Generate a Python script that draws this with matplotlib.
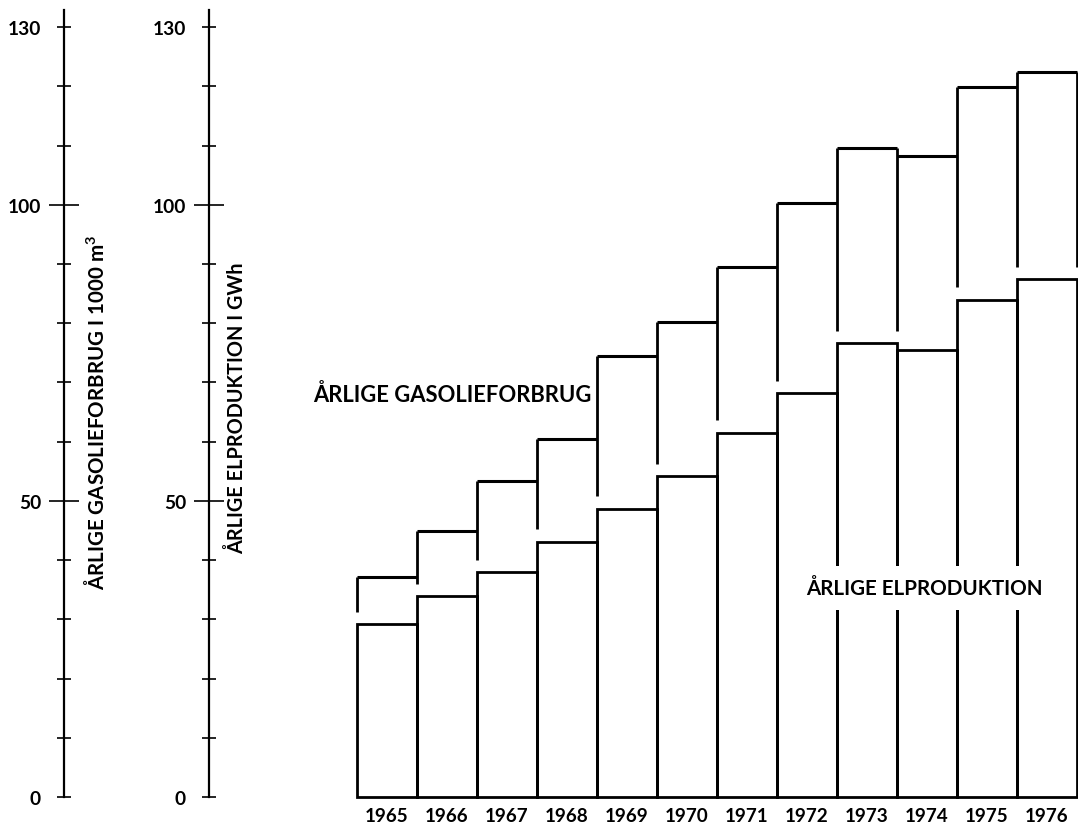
import numpy as np
import matplotlib
matplotlib.use("Agg")
import matplotlib.pyplot as plt
from matplotlib.ticker import FixedLocator, FixedFormatter

plt.rcParams['font.family'] = ['Lato', 'DejaVu Sans']
plt.rcParams['font.weight'] = 'bold'
plt.rcParams['mathtext.default'] = 'regular'

# data
years = [1965, 1966, 1967, 1968, 1969, 1970, 1971, 1972, 1973, 1974, 1975, 1976]
elproduktion = [29.2, 33.9, 38.0, 43.1, 48.7, 54.2, 61.5, 68.2, 76.6, 75.5, 84.0, 87.4]
gasolie = [37.1, 45.0, 53.4, 60.5, 74.4, 80.2, 89.5, 100.3, 109.6, 108.3, 119.9, 122.4]

major_ticks = [50, 100]
minor_ticks = [0, 10, 20, 30, 40, 60, 70, 80, 90, 110, 120, 130]
minor_labels = ['0', '', '', '', '', '', '', '', '', '', '', '130']

W, H = 1078, 829
YMAX = 132.9
GAP = 2.1  # space left between the gas step verticals and the el bars

fig = plt.figure(figsize=(W / 100, H / 100), dpi=100)
bottom = (H - 798) / H
height = (798 - 11) / H

#main plot with the steps
ax = fig.add_axes([357 / W, bottom, (1077 - 357) / W, height])
ax.set_xlim(-0.5, len(years) - 0.5)
ax.set_ylim(0, YMAX)
for s in ax.spines.values():
    s.set_visible(False)

idx = np.arange(len(years))
ax.bar(idx, elproduktion, width=1.0, fill=False, edgecolor='black',
       linewidth=2.0, clip_on=False)

gas = np.array(gasolie)
el = np.array(elproduktion)
ax.hlines(gas, idx - 0.5, idx + 0.5, color='black', linewidth=2.2, clip_on=False)

# verticals at every year boundary
vx, vtop, vbot = [], [], []
for k in range(len(years) + 1):
    left = max(k - 1, 0)
    right = min(k, len(years) - 1)
    vx.append(k - 0.5)
    vtop.append(max(gas[left], gas[right]))
    vbot.append(max(el[left], el[right]) + GAP)
ax.vlines(vx, vbot, vtop, color='black', linewidth=2.0, clip_on=False)

ax.set_xticks(idx)
ax.set_xticklabels([str(y) for y in years], fontsize=13.6)
ax.tick_params(axis='x', length=0, pad=7.5)
ax.set_yticks([])

ax.text(-1.23, 68.1, 'ÅRLIGE GASOLIEFORBRUG', fontsize=15.8, ha='left', va='center')
ax.text(8.95, 35.3, 'ÅRLIGE ELPRODUKTION', fontsize=14.9, ha='center', va='center',
        bbox=dict(facecolor='white', edgecolor='none', pad=9))


def scale_axis(xpix):
    a = fig.add_axes([xpix / W, bottom, 0.0001, height])
    a.set_ylim(0, YMAX)
    a.set_xticks([])
    for name in ['top', 'right', 'bottom']:
        a.spines[name].set_visible(False)
    a.spines['left'].set_linewidth(1.6)
    a.yaxis.set_major_locator(FixedLocator(major_ticks))
    a.yaxis.set_minor_locator(FixedLocator(minor_ticks))
    a.yaxis.set_minor_formatter(FixedFormatter(minor_labels))
    a.tick_params(axis='y', which='major', direction='inout', length=22, width=1.2,
                  pad=5.3, labelsize=13.8)
    a.tick_params(axis='y', which='minor', direction='inout', length=10, width=1.2,
                  pad=11.5, labelsize=13.8)
    a.patch.set_visible(False)
    return a


scale_axis(64)
scale_axis(209)

fig.text(96 / W, 1 - 412 / H, 'ÅRLIGE GASOLIEFORBRUG I 1000 m$^3$', rotation=90,
         fontsize=14.8, ha='center', va='center')
fig.text(237 / W, 1 - 408 / H, 'ÅRLIGE ELPRODUKTION I GWh', rotation=90,
         fontsize=14.3, ha='center', va='center')

fig.savefig('out.png', dpi=100)
